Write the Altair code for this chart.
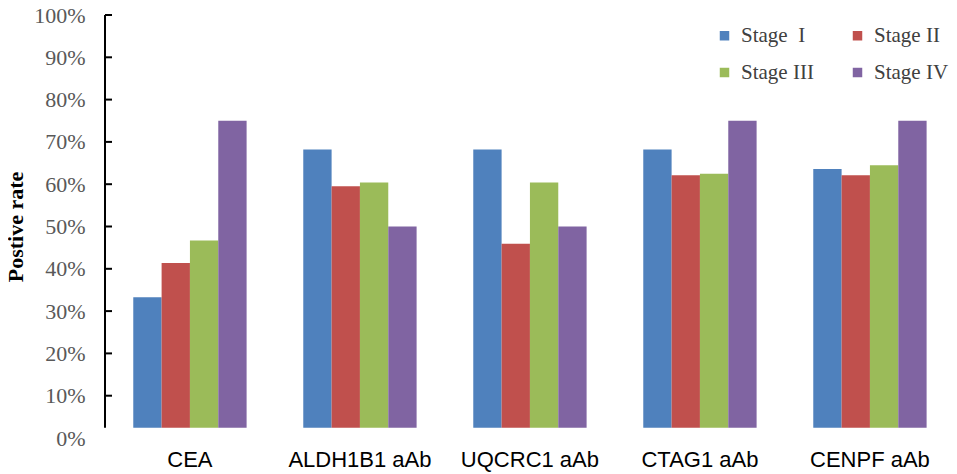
import altair as alt
import pandas as pd

categories = ["CEA", "ALDH1B1 aAb", "UQCRC1 aAb", "CTAG1 aAb", "CENPF aAb"]
stages = ["Stage\u00a0\u00a0I", "Stage II", "Stage III", "Stage IV"]
stage1 = [33.3, 68.2, 68.2, 68.2, 63.6]
stage2 = [41.4, 59.5, 45.9, 62.1, 62.1]
stage3 = [46.7, 60.4, 60.4, 62.5, 64.5]
stage4 = [75.0, 50.0, 50.0, 75.0, 75.0]
colors = ["#4F81BD", "#C0504D", "#9BBB59", "#8064A2"]
tick_values = [10, 20, 30, 40, 50, 60, 70, 80, 90, 100]
label_values = [0, 10, 20, 30, 40, 50, 60, 70, 80, 90, 100]
BASE = 2.4  # where the visible baseline of the bars sits on the axis

rows = []
for s, vals in zip(stages, [stage1, stage2, stage3, stage4]):
    for c, v in zip(categories, vals):
        rows.append({"category": c, "stage": s, "value": v})
df = pd.DataFrame(rows)

yscale = alt.Scale(domain=[0, 100], nice=False, zero=False)
yaxis = alt.Axis(
    title="Postive rate",
    titleFont="Liberation Serif",
    titleFontSize=22,
    titleFontWeight="bold",
    titleColor="#000000",
    titlePadding=6,
    values=label_values,
    labelExpr="datum.value + '%'",
    labelFont="Liberation Serif",
    labelFontSize=22,
    labelColor="#595959",
    labelPadding=20,
    ticks=False,
    tickSize=0,
    domain=False,
    grid=False,
)

bars = alt.Chart(df).mark_bar().encode(
    x=alt.X(
        "category:N",
        sort=categories,
        scale=alt.Scale(paddingInner=0.3333, paddingOuter=0.149, align=0.558),
        axis=alt.Axis(
            title=None,
            labelAngle=0,
            labelFont="Liberation Sans",
            labelFontSize=22,
            labelColor="#000000",
            labelPadding=11,
            ticks=False,
            tickSize=0,
            domain=False,
        ),
    ),
    xOffset=alt.XOffset("stage:N", sort=stages,
                        scale=alt.Scale(paddingInner=0, paddingOuter=0)),
    y=alt.Y("value:Q", scale=yscale, axis=yaxis),
    y2=alt.datum(BASE),
    color=alt.Color(
        "stage:N",
        sort=stages,
        scale=alt.Scale(domain=stages, range=colors),
        legend=alt.Legend(
            title=None,
            orient="none",
            direction="horizontal",
            legendX=609,
            legendY=10,
            padding=0,
            offset=0,
            columns=2,
            columnPadding=33,
            rowPadding=15,
            symbolType="square",
            symbolSize=90,
            symbolStrokeWidth=0,
            labelOffset=6,
            labelFont="Liberation Serif",
            labelFontSize=21,
            labelColor="#404040",
        ),
    ),
)

axis_df = pd.DataFrame({"top": [100], "bottom": [BASE]})
axis_line = alt.Chart(axis_df).mark_rule(color="#000000", strokeWidth=2).encode(
    y=alt.Y("top:Q", scale=yscale, axis=yaxis),
    y2="bottom:Q",
    x=alt.value(0),
)

ticks_df = pd.DataFrame({"tick": tick_values})
ticks = alt.Chart(ticks_df).mark_rule(color="#000000", strokeWidth=2).encode(
    y=alt.Y("tick:Q", scale=yscale, axis=yaxis),
    x=alt.value(0),
    x2=alt.value(7),
)

chart = alt.layer(bars, axis_line, ticks).properties(
    width=844,
    height=423,
    background="white",
    autosize=alt.AutoSizeParams(type="none"),
    padding={"left": 97, "top": 7, "right": 0, "bottom": 37},
).configure_view(stroke=None)

chart.save("out.html", embed_options={"renderer": "svg", "actions": False})
